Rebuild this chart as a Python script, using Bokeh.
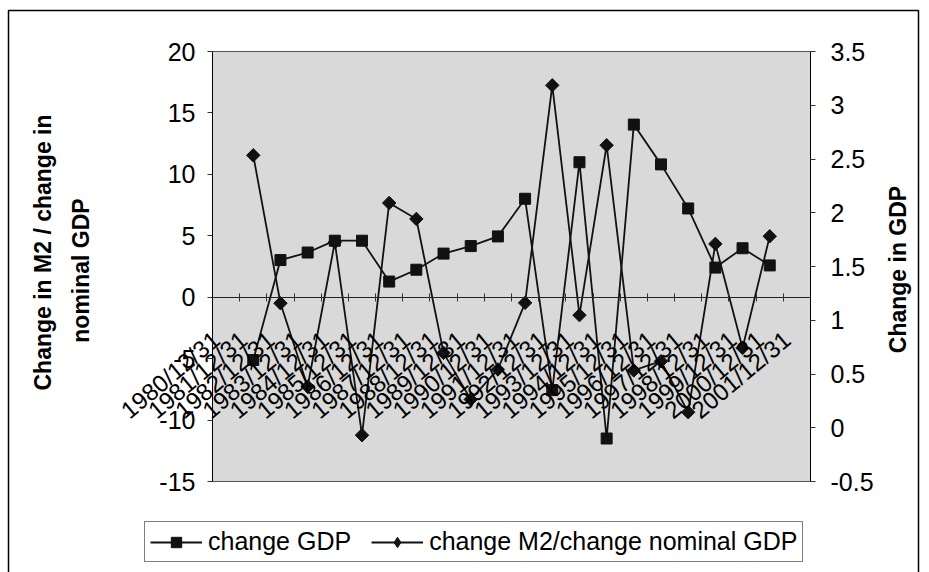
import math

from bokeh.embed import file_html
from bokeh.models import (BoxAnnotation, CustomJSTickFormatter, FixedTicker, Label,
                          Legend, LegendItem, LinearAxis, NumeralTickFormatter, Range1d)
from bokeh.plotting import figure
from bokeh.resources import INLINE

NAN = float("nan")

# Year-end dates on the category axis
years = [
    "1980/12/31", "1981/12/31", "1982/12/31", "1983/12/31", "1984/12/31", "1985/12/31",
    "1986/12/31", "1987/12/31", "1988/12/31", "1989/12/31", "1990/12/31", "1991/12/31",
    "1992/12/31", "1993/12/31", "1994/12/31", "1995/12/31", "1996/12/31", "1997/12/31",
    "1998/12/31", "1999/12/31", "2000/12/31", "2001/12/31",
]

# Change in GDP (right axis)
change_gdp = [
    NAN, 0.63, 1.56, 1.63, 1.74, 1.74, 1.36, 1.47, 1.62, 1.69, 1.78,
    2.13, 0.35, 2.47, -0.10, 2.82, 2.45, 2.04, 1.49, 1.67, 1.51, NAN,
]

# Change in M2 / change in nominal GDP (left axis)
m2_ratio = [
    NAN, 11.55, -0.49, -7.27, 4.48, -11.23, 7.67, 6.37, -4.53, -8.32, -5.88,
    -0.46, 17.25, -1.46, 12.37, -5.96, -5.21, -9.36, 4.34, -4.13, 4.96, NAN,
]

left_ticks = [-15, -10, -5, 0, 5, 10, 15, 20]
right_ticks = [-0.5, 0, 0.5, 1, 1.5, 2, 2.5, 3, 3.5]

# Page and plot-area geometry (pixels)
W, H = 929, 572
PL, PR, PT, PB = 212, 810, 51, 481

n = len(years)
idx = list(range(n))
FONT = "Liberation Sans"
INK = "#111111"

# The drawing frame covers the whole page so that nothing outside the
# plot area gets clipped; ranges are stretched so the plot area lands
# on the pixels above.
ux = (PR - PL) / n
x_lo, x_hi = -0.5, n - 0.5
l_lo, l_hi = left_ticks[0], left_ticks[-1]
r_lo, r_hi = right_ticks[0], right_ticks[-1]
uyl = (PB - PT) / (l_hi - l_lo)
uyr = (PB - PT) / (r_hi - r_lo)

p = figure(
    width=W, height=H,
    output_backend="svg", toolbar_location=None,
    x_axis_location=None, y_axis_location=None,
    x_range=Range1d(x_lo - PL / ux, x_lo + (W - PL) / ux),
    y_range=Range1d(l_lo - (H - PB) / uyl, l_hi + PT / uyl),
    min_border=0,
)
p.extra_y_ranges = {"gdp": Range1d(r_lo - (H - PB) / uyr, r_hi + PT / uyr)}
p.background_fill_color = "white"
p.border_fill_color = "white"
p.outline_line_color = None
p.grid.visible = False

# Grey plot area with its border
p.add_layout(BoxAnnotation(
    left=x_lo, right=x_hi, bottom=l_lo, top=l_hi, level="underlay",
    fill_color="#d9d9d9", fill_alpha=1, line_color="#555555", line_width=1, line_alpha=1,
))

tick_style = dict(
    major_label_text_font=FONT, major_label_text_font_size="25px",
    major_label_text_color="black", minor_tick_line_color=None,
)

# Left value axis
ly = LinearAxis(
    fixed_location=x_lo, bounds=(l_lo, l_hi),
    ticker=FixedTicker(ticks=left_ticks),
    formatter=NumeralTickFormatter(format="0"),
    major_tick_in=0, major_tick_out=5, major_label_standoff=12,
    axis_line_color="black", major_tick_line_color="#333333",
    **tick_style,
)
p.add_layout(ly, "left")

# Right value axis
ry = LinearAxis(
    y_range_name="gdp", fixed_location=x_hi, bounds=(r_lo, r_hi),
    ticker=FixedTicker(ticks=right_ticks),
    formatter=NumeralTickFormatter(format="0.[0]"),
    major_tick_in=0, major_tick_out=5, major_label_standoff=15,
    axis_line_color="black", major_tick_line_color="#333333",
    **tick_style,
)
p.add_layout(ry, "right")

# Category axis along the zero line, ticks between categories
zero_axis = LinearAxis(
    fixed_location=0, bounds=(x_lo, x_hi),
    ticker=FixedTicker(ticks=[k - 0.5 for k in range(n + 1)]),
    formatter=CustomJSTickFormatter(code="return ''"),
    major_tick_in=4, major_tick_out=4,
    major_tick_line_color="#333333",
    minor_tick_line_color=None,
    axis_line_color="#222222", axis_line_width=1.2,
)
p.add_layout(zero_axis, "below")

# Slanted date labels hanging under the zero line
label_shift = 0.36
date_axis = LinearAxis(
    fixed_location=0,
    ticker=FixedTicker(ticks=[i - label_shift for i in idx]),
    formatter=CustomJSTickFormatter(
        args=dict(labels=years, shift=label_shift),
        code="return labels[Math.round(tick + shift)]",
    ),
    major_label_orientation=math.radians(40),
    major_label_standoff=33,
    major_tick_line_color=None,
    axis_line_color=None,
    major_label_text_font=FONT, major_label_text_font_size="24px",
    major_label_text_color="black", minor_tick_line_color=None,
)
p.add_layout(date_axis, "below")

# Series
gdp_line = p.line(idx, change_gdp, y_range_name="gdp", line_color=INK, line_width=1.8)
gdp_pts = p.scatter(idx, change_gdp, y_range_name="gdp", marker="square", size=11,
                    fill_color=INK, line_color=INK)
m2_line = p.line(idx, m2_ratio, line_color=INK, line_width=1.8)
# diamonds: squares turned by 45 degrees, with a narrower diamond inside
# that also serves as the legend swatch
m2_pts = p.scatter(idx, m2_ratio, marker="square", angle=math.pi / 4, size=9.5,
                   fill_color=INK, line_color=INK)
m2_key = p.scatter(idx, m2_ratio, marker="diamond", size=12,
                   fill_color=INK, line_color=INK)

# Axis titles
title_font = dict(text_font=FONT, text_font_size="23px", text_font_style="bold",
                  text_color="black", text_align="center", text_baseline="middle",
                  angle=math.pi / 2, x_units="screen", y_units="screen")
p.add_layout(Label(x=42, y=H - 252, text="Change in M2 / change in", **title_font))
p.add_layout(Label(x=80, y=H - 270, text="nominal GDP", **title_font))
p.add_layout(Label(x=897, y=H - 269, text="Change in GDP", **title_font))

# Legend under the chart
legend = Legend(
    items=[
        LegendItem(label="change GDP", renderers=[gdp_line, gdp_pts]),
        LegendItem(label="change M2/change nominal GDP", renderers=[m2_line, m2_key]),
    ],
    orientation="horizontal",
    location=(144, H - 562),
    label_text_font=FONT,
    label_text_font_size="25px",
    label_text_color="black",
    glyph_width=52, glyph_height=26, label_height=20,
    label_standoff=6, spacing=20, padding=5, margin=0,
    border_line_color="black", border_line_width=1,
    background_fill_color="white", background_fill_alpha=1,
)
p.add_layout(legend)

# Outer chart border
p.add_layout(BoxAnnotation(
    left=8, right=918, top=H - 10, bottom=-20,
    left_units="screen", right_units="screen", top_units="screen", bottom_units="screen",
    fill_alpha=0, line_color="black", line_width=1.5, line_alpha=1,
))

open("out.html", "w").write(file_html(p, INLINE))
